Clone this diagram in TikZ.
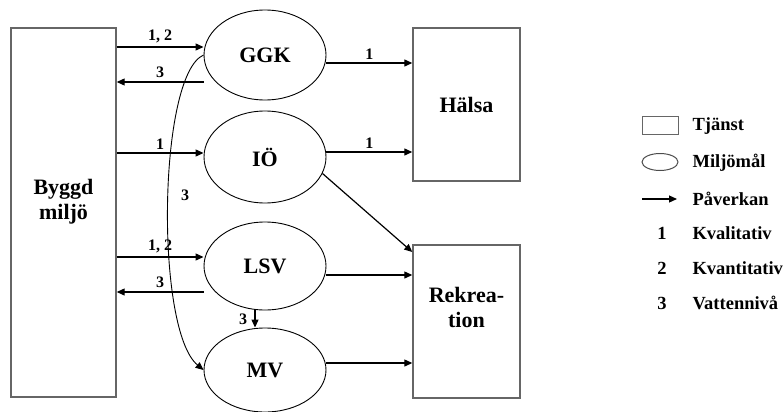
\documentclass[tikz,border=0pt]{standalone}
\usepackage{fontspec}
\setmainfont{Liberation Serif}
\usetikzlibrary{arrows.meta,shapes.geometric}
\newcommand{\bigtxt}{\fontsize{22}{25}\selectfont\bfseries}
\newcommand{\lbltxt}{\fontsize{16}{18}\selectfont\bfseries}
\newcommand{\legtxt}{\fontsize{18.5}{20}\selectfont\bfseries}

\begin{document}
\begin{tikzpicture}[x=1pt,y=-1pt,
   box/.style={draw=black!60,line width=1.4pt,inner sep=0pt},
   goal/.style={ellipse,draw,line width=0.9pt,minimum width=122pt,inner sep=0pt,font=\bigtxt},
   arr/.style={-{Triangle[length=8pt,width=7pt]},line width=1.2pt}]
   \useasboundingbox (0,0) rectangle (784,412);
   % tjanster
   \node[box,minimum width=105pt,minimum height=369pt] (bm) at (63.5,212.5) {};
   \node[box,minimum width=107pt,minimum height=153pt] (hal) at (466.5,104.5) {};
   \node[box,minimum width=107pt,minimum height=153pt] (rek) at (466.5,321.5) {};
   \node[align=center,font=\bigtxt] at ([yshift=11pt]bm.center) {Byggd\\miljö};
   \node[align=center,font=\bigtxt] at (hal.center) {Hälsa};
   \node[align=center,font=\bigtxt] at ([yshift=14pt]rek.center) {Rekrea-\\tion};
   % miljomal
   \node[goal,minimum height=90pt] (ggk) at (265,55) {GGK};
   \node[goal,minimum height=92pt] (io)  at (265,157) {IÖ};
   \node[goal,minimum height=88pt] (lsv) at (265,266) {LSV};
   \node[goal,minimum height=84pt] (mv)  at (265,370) {MV};
   % paverkan
   \draw[arr] (bm.east |- 0,47) -- node[above,font=\lbltxt] {1, 2} (ggk.west |- 0,47);
   \draw[arr] (ggk.west |- 0,82) -- node[above,font=\lbltxt] {3} (bm.east |- 0,82);
   \draw[arr] (bm.east |- 0,153) -- node[above,font=\lbltxt] {1} (io.west |- 0,153);
   \draw[arr] (ggk.east |- 0,63) -- node[above,font=\lbltxt] {1} (hal.west |- 0,63);
   \draw[arr] (io.east |- 0,152) -- node[above,font=\lbltxt] {1} (hal.west |- 0,152);
   \draw[arr] (io.-16) -- (rek.west |- 0,252);
   \draw[arr] (bm.east |- 0,257) -- node[above,font=\lbltxt] {1, 2} (lsv.west |- 0,257);
   \draw[arr] (lsv.west |- 0,292) -- node[above,font=\lbltxt] {3} (bm.east |- 0,292);
   \draw[arr] (lsv.east |- 0,275) -- (rek.west |- 0,275);
   \draw[arr] (lsv.south -| 255,0) -- node[left,xshift=-4pt,font=\lbltxt] {3} (mv.north -| 255,0);
   \draw[arr] (mv.east |- 0,363) -- (rek.west |- 0,363);
   \draw[arr,line width=0.9pt] (ggk.west) .. controls (158,75) and (155,330) .. (mv.west);
   \node[font=\lbltxt] (tre) at (185,195) {3};
   % forklaring
   \node[box,line width=1pt,minimum width=36pt,minimum height=18pt] (ltj) at (660,125) {};
   \node[ellipse,draw=black!70,line width=1pt,minimum width=36pt,minimum height=17pt,inner sep=0pt] (lmm) at (660,162) {};
   \coordinate (pa) at (642,199);
   \coordinate (pb) at (677,199);
   \draw[arr] (pa) -- (pb);
   \node[font=\legtxt] (n1) at (662,233) {1};
   \node[font=\legtxt] (n2) at (662,268) {2};
   \node[font=\legtxt] (n3) at (662,303) {3};
   \node[font=\legtxt,anchor=west] at (689,126) {Tjänst};
   \node[font=\legtxt,anchor=west] at (689,163) {Miljömål};
   \node[font=\legtxt,anchor=west] at (689,199) {Påverkan};
   \node[font=\legtxt,anchor=west] at (689,233) {Kvalitativ};
   \node[font=\legtxt,anchor=west] at (689,268) {Kvantitativ};
   \node[font=\legtxt,anchor=west] at (689,303) {Vattennivå};
\end{tikzpicture}
\end{document}
